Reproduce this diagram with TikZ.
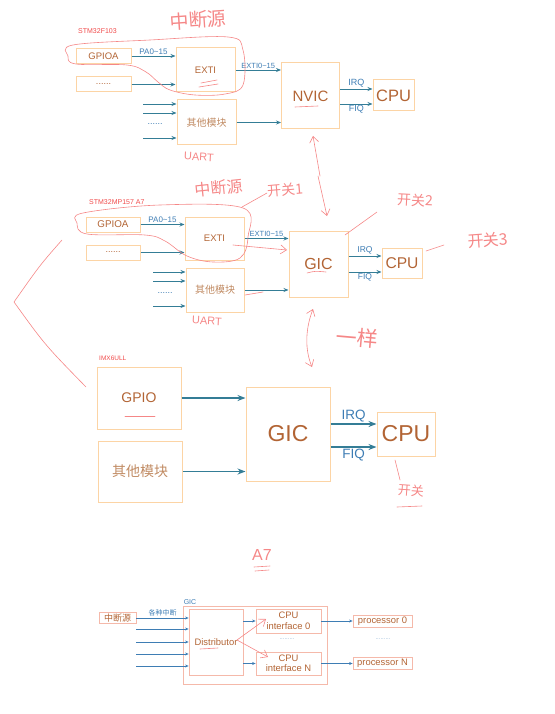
\documentclass[tikz,border=0pt]{standalone}
\usepackage{fontspec}
\setmainfont{Liberation Sans}
\newfontfamily\cjk{Noto Sans CJK SC}
\usepackage{tikz}
\usetikzlibrary{positioning,arrows.meta,calc}
\usepackage{xcolor}
\definecolor{boxline}{RGB}{252,212,165}
\definecolor{brownt}{RGB}{178,100,52}
\definecolor{softbrown}{RGB}{192,138,98}
\definecolor{arrowteal}{RGB}{52,125,150}
\definecolor{labelblue}{RGB}{62,125,180}
\definecolor{chipred}{RGB}{240,75,75}
\definecolor{handred}{RGB}{245,135,135}
\definecolor{pinkline}{RGB}{245,185,170}

\begin{document}
\begin{tikzpicture}[x=1pt,y=-1pt,>={Stealth[length=5pt,width=4pt]},
  box/.style={draw=boxline,line width=1pt,text=brownt,inner sep=0pt},
  pinkbox/.style={draw=pinkline,line width=0.8pt,text=brownt,inner sep=0pt,align=center,font=\fontsize{9.4}{10.5}\selectfont},
  link/.style={->,draw=arrowteal,line width=0.9pt},
  biglink/.style={->,draw=arrowteal,line width=1.4pt,>={Stealth[length=8pt,width=6pt]}},
  smalllink/.style={->,draw=labelblue,line width=0.6pt,>={Stealth[length=3.5pt,width=3pt]}},
  lbl/.style={text=labelblue,inner sep=1pt,font=\fontsize{8}{9}\selectfont},
  chip/.style={text=chipred,anchor=west,inner sep=0pt,font=\fontsize{7}{8}\selectfont},
  hand/.style={draw=handred,line width=0.6pt,line cap=round,line join=round},
  handtip/.style={hand,-{Straight Barb[length=6pt,width=9pt]}},
  note/.style={text=handred,inner sep=0pt}]
\useasboundingbox (0,0) rectangle (554,714);

% STM32F103
\node[chip] (chipA) at (78,31) {STM32F103};
\node[box,minimum width=55pt,minimum height=15pt,font=\fontsize{9.5}{11}\selectfont] (gpioA1) at (103.5,56) {GPIOA};
\node[box,minimum width=55pt,minimum height=15pt,font=\fontsize{9}{10}\selectfont] (dotsA1) at (103.5,84.5) {......};
\node[box,minimum width=59pt,minimum height=44pt,font=\fontsize{9.5}{11}\selectfont] (exti1) at (205.5,70) {EXTI};
\node[box,minimum width=59pt,minimum height=45pt,font=\cjk\fontsize{10}{11}\selectfont,text=softbrown] (other1) at (206.5,122.5) {其他模块};
\node[box,minimum width=58pt,minimum height=66pt,font=\fontsize{15}{17}\selectfont] (nvic) at (310.5,96) {NVIC};
\node[box,minimum width=41pt,minimum height=31pt,font=\fontsize{16.5}{18}\selectfont] (cpu1) at (393.5,95.5) {CPU};

\draw[link] (gpioA1.east) -- (gpioA1.east -| exti1.west) node[lbl,midway,above] {PA0\textasciitilde 15};
\draw[link] (dotsA1.east) -- (dotsA1.east -| exti1.west);
\foreach \y [count=\i] in {104,113,138}
  \draw[link] (143,\y) coordinate (inA\i) -- (inA\i -| other1.west);
\node[lbl,font=\fontsize{9}{10}\selectfont] (dotsB1) at (155,124) {......};
\draw[link] (exti1.east) -- (exti1.east -| nvic.west) node[lbl,midway,above,font=\fontsize{7.5}{8}\selectfont] {EXTI0\textasciitilde 15};
\draw[link] (other1.east) -- (other1.east -| nvic.west);
\draw[link] ($(nvic.east)+(0,-7)$) coordinate (irqA) -- (irqA -| cpu1.west) node[lbl,midway,above,font=\fontsize{9}{10}\selectfont] {IRQ};
\draw[link] ($(nvic.east)+(0,8)$) coordinate (fiqA) -- (fiqA -| cpu1.west) node[lbl,midway,below,font=\fontsize{9}{10}\selectfont] {FIQ};

% STM32MP157
\node[chip] (chipB) at (89,202) {STM32MP157 A7};
\node[box,minimum width=54pt,minimum height=15pt,font=\fontsize{9.8}{11}\selectfont] (gpioA2) at (113,224.5) {GPIOA};
\node[box,minimum width=54pt,minimum height=15pt,font=\fontsize{9}{10}\selectfont] (dotsA2) at (113,252.5) {......};
\node[box,minimum width=59pt,minimum height=43pt,font=\fontsize{9.5}{11}\selectfont] (exti2) at (214.5,238.5) {EXTI};
\node[box,minimum width=58pt,minimum height=44pt,font=\cjk\fontsize{10}{11}\selectfont,text=softbrown] (other2) at (215,290) {其他模块};
\node[box,minimum width=59pt,minimum height=66pt,font=\fontsize{16}{18}\selectfont] (gic2) at (318.5,264) {GIC};
\node[box,minimum width=40pt,minimum height=30pt,font=\fontsize{15.6}{17}\selectfont] (cpu2) at (402,263) {CPU};

\draw[link] (gpioA2.east) -- (gpioA2.east -| exti2.west) node[lbl,midway,above] {PA0\textasciitilde 15};
\draw[link] (dotsA2.east) -- (dotsA2.east -| exti2.west);
\foreach \y [count=\i] in {272,281,306}
  \draw[link] (153,\y) coordinate (inB\i) -- (inB\i -| other2.west);
\node[lbl,font=\fontsize{9}{10}\selectfont] (dotsB2) at (165,293) {......};
\draw[link] (exti2.east) -- (exti2.east -| gic2.west) node[lbl,midway,above,font=\fontsize{7.5}{8}\selectfont] {EXTI0\textasciitilde 15};
\draw[link] (other2.east) -- (other2.east -| gic2.west);
\draw[link] ($(gic2.east)+(0,-8)$) coordinate (irqB) -- (irqB -| cpu2.west) node[lbl,midway,above,font=\fontsize{8.5}{9}\selectfont] {IRQ};
\draw[link] ($(gic2.east)+(0,8)$) coordinate (fiqB) -- (fiqB -| cpu2.west) node[lbl,midway,below,font=\fontsize{8.5}{9}\selectfont] {FIQ};

% IMX6ULL
\node[chip,font=\fontsize{6.5}{7}\selectfont] (chipC) at (99,358) {IMX6ULL};
\node[box,minimum width=84pt,minimum height=62pt,font=\fontsize{14}{16}\selectfont] (gpio3) at (139,398) {GPIO};
\node[box,minimum width=84pt,minimum height=61pt,font=\cjk\fontsize{14}{16}\selectfont,text=softbrown] (other3) at (140,471.5) {其他模块};
\node[box,minimum width=84pt,minimum height=94pt,font=\fontsize{23}{25}\selectfont] (gic3) at (288,434) {GIC};
\node[box,minimum width=58pt,minimum height=44pt,font=\fontsize{23}{25}\selectfont] (cpu3) at (406,434) {CPU};

\draw[biglink] (gpio3.east) -- (gpio3.east -| gic3.west);
\draw[biglink] (other3.east) -- (other3.east -| gic3.west);
\draw[biglink] ($(gic3.east)+(0,-10)$) coordinate (irqC) -- (irqC -| cpu3.west) node[lbl,midway,above,font=\fontsize{13.5}{15}\selectfont] {IRQ};
\draw[biglink] ($(gic3.east)+(0,13)$) coordinate (fiqC) -- (fiqC -| cpu3.west) node[lbl,midway,below,font=\fontsize{13.5}{15}\selectfont] {FIQ};

% GIC of A7
\node[pinkbox,minimum width=144pt,minimum height=78pt] (gicbox) at (255,645) {};
\node[lbl,anchor=south west,font=\fontsize{7}{8}\selectfont] (giclbl) at (gicbox.north west) {GIC};
\node[pinkbox,minimum width=37pt,minimum height=11pt,font=\cjk\fontsize{9}{10}\selectfont] (src) at (117.5,618) {中断源};
\node[pinkbox,minimum width=54pt,minimum height=66pt] (dist) at (216,642) {Distributor};
\node[pinkbox,minimum width=65pt,minimum height=24pt] (cif0) at (288.5,621) {CPU\\interface 0};
\node[pinkbox,minimum width=65pt,minimum height=23pt] (cifN) at (288.5,663.5) {CPU\\interface N};
\node[pinkbox,minimum width=59pt,minimum height=12pt] (proc0) at (382.5,621) {processor 0};
\node[pinkbox,minimum width=59pt,minimum height=12pt] (procN) at (382.5,663) {processor N};

\draw[smalllink] (src.east) -- (src.east -| dist.west) node[lbl,midway,above=1pt,font=\cjk\fontsize{7}{8}\selectfont] {各种中断};
\foreach \y [count=\i] in {629,642,654,666}
  \draw[smalllink] (136,\y) coordinate (inD\i) -- (inD\i -| dist.west);
\draw[smalllink] (dist.east |- cif0.west) -- (cif0.west);
\draw[smalllink] (dist.east |- cifN.west) -- (cifN.west);
\draw[smalllink] (cif0.east) -- (cif0.east -| proc0.west);
\draw[smalllink] (cifN.east) -- (cifN.east -| procN.west);
\node[lbl,font=\fontsize{6}{7}\selectfont,opacity=0.6] (dotsD1) at (287,639) {.........};
\node[lbl,font=\fontsize{6}{7}\selectfont,opacity=0.6] (dotsD2) at (383,639) {.........};

% notes by hand
\node[note,rotate=4,font=\cjk\fontsize{19}{20}\selectfont] (srcA) at (198,20) {中断源};
\draw[hand] plot[smooth cycle,tension=0.6] coordinates {(68,56) (73,45) (150,40) (228,37) (243,50) (243,85) (225,94) (195,95) (170,90) (158,82) (146,72) (127,65) (76,64)};
\draw[hand] (201,83) -- (217,80) (199,87) -- (218,84);
\draw[hand] (295,107) -- (318,106);
\node[note,rotate=-3,font=\fontsize{11}{12}\selectfont] (uartA) at (199,157) {UART};
\draw[handtip] (320,176) -- (313,136);
\draw[handtip] (318,176) -- (327,216);

\node[note,rotate=6,font=\cjk\fontsize{16}{17}\selectfont] (srcB) at (219,188) {中断源};
\node[note,rotate=5,font=\cjk\fontsize{14}{15}\selectfont] (swA) at (285,190) {开关1};
\draw[hand] plot[smooth cycle,tension=0.6] coordinates {(77,223) (83,213) (160,205) (243,208) (248,237) (240,258) (213,262) (187,256) (165,241) (145,235) (87,234)};
\draw[hand] (242,207) -- (267,193);
\draw[handtip] (233,245) -- (287,250);
\draw[hand] (307,273) .. controls (315,271) .. (326,272);
\draw[hand] (245,295) -- (263,292);
\node[note,rotate=-3,font=\fontsize{11}{12}\selectfont] (uartB) at (207,321) {UART};
\node[note,rotate=-3,font=\cjk\fontsize{14}{15}\selectfont] (swB) at (415,200) {开关2};
\draw[hand] (345,235) -- (377,212);
\node[note,rotate=4,font=\cjk\fontsize{16}{17}\selectfont] (swC) at (488,240) {开关3};
\draw[hand] (426,251) -- (444,245);
\draw[hand,{Straight Barb[length=6pt,width=9pt]}-{Straight Barb[length=6pt,width=9pt]}] (313,309) .. controls (305,330) and (305,350) .. (312,367);
\node[note,rotate=-5,font=\cjk\fontsize{21}{22}\selectfont] (same) at (357,338) {一样};
\draw[hand] (62,240) .. controls (40,265) .. (14,302) .. controls (45,345) .. (86,387);

\draw[hand] (125,416) -- (155,416);
\draw[hand] (395,460) -- (400,480);
\node[note,rotate=-4,font=\cjk\fontsize{13}{14}\selectfont] (swD) at (411,491) {开关};
\draw[hand] (397,507) -- (422,506);

\node[note,font=\fontsize{16}{17}\selectfont] (coreA) at (262,555) {A7};
\draw[hand] (254,567) -- (270,566) (255,571) -- (269,570);
\draw[handtip] (237,640) -- (266,619);
\draw[handtip] (237,640) -- (268,657);
\draw[hand] (200,649) -- (218,648);
\end{tikzpicture}
\end{document}
